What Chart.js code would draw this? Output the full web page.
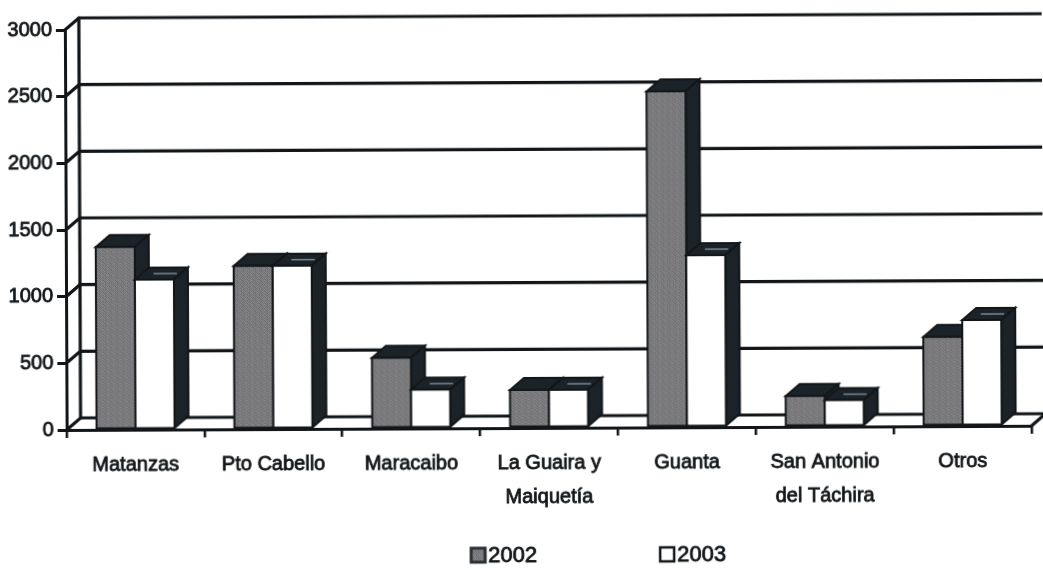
<!DOCTYPE html>
<html>
<head>
<meta charset="utf-8">
<script src="https://cdn.jsdelivr.net/npm/chart.js@4/dist/chart.umd.min.js"></script>
<style>
  html, body { margin: 0; padding: 0; background: #fff; overflow: hidden; }
  #wrap { width: 1043px; height: 570px; }
  /* the printed page sits a touch askew */
  canvas { transform: rotate(-0.25deg); transform-origin: 50% 50%; }
</style>
</head>
<body>
<div id="wrap"><canvas id="c" width="1043" height="570"></canvas></div>
<script>
// Ports and yearly volumes
const categories = [
  ['Matanzas'],
  ['Pto Cabello'],
  ['Maracaibo'],
  ['La Guaira y', 'Maiquetía'],
  ['Guanta'],
  ['San Antonio', 'del Táchira'],
  ['Otros']
];
const seriesNames = ['2002', '2003'];
const values2002 = [1370, 1225, 530, 285, 2520, 230, 670];
const values2003 = [1125, 1225, 290, 285, 1290, 198, 795];
const yMin = 0, yMax = 3000, yStep = 500;

// Styling
const INK = '#121619';
const FACE_DARK = '#1b2329';
const FONT = "'Liberation Sans', Arial, sans-serif";
const FONT_SIZE = 20;
const TEXT_STROKE = 0.8;          // heavier ink on the printed labels
const DX = 14, DY = -12;          // depth of the 3-D extrusion

// stippled grey fill for the 2002 series
function makeGrain() {
  const shades = [
    [0x86, 0x70, 0x7e, 0x6a, 0x82, 0x76],
    [0x6c, 0x8c, 0x74, 0x84, 0x6e, 0x8a],
    [0x7c, 0x66, 0x8a, 0x72, 0x88, 0x70],
    [0x8e, 0x7a, 0x6a, 0x80, 0x74, 0x84],
    [0x70, 0x84, 0x7a, 0x68, 0x8c, 0x78],
    [0x80, 0x6e, 0x86, 0x7c, 0x6c, 0x82]
  ];
  const tile = document.createElement('canvas');
  tile.width = 6; tile.height = 6;
  const t = tile.getContext('2d');
  shades.forEach((row, r) => row.forEach((v, c) => {
    t.fillStyle = `rgb(${v},${v},${v + 2})`;
    t.fillRect(c, r, 1, 1);
  }));
  return document.getElementById('c').getContext('2d').createPattern(tile, 'repeat');
}
const grain = makeGrain();
const frontFills = [grain, '#ffffff'];

function poly(ctx, pts, fill) {
  ctx.beginPath();
  ctx.moveTo(pts[0][0], pts[0][1]);
  for (let i = 1; i < pts.length; i++) ctx.lineTo(pts[i][0], pts[i][1]);
  ctx.closePath();
  ctx.fillStyle = fill;
  ctx.fill();
  ctx.stroke();
}

// Back wall, side wall and floor drawn in perspective
const wallsPlugin = {
  id: 'walls',
  beforeDatasetsDraw(chart) {
    const { ctx, chartArea: a, scales: { y } } = chart;
    ctx.save();
    ctx.strokeStyle = INK;
    ctx.lineWidth = 3.2;
    ctx.lineCap = 'round';
    y.ticks.forEach(t => {
      const yf = y.getPixelForValue(t.value);
      ctx.beginPath();
      ctx.moveTo(a.left, yf);
      ctx.lineTo(a.left + DX, yf + DY);
      ctx.lineTo(a.right + DX + 4, yf + DY);
      ctx.stroke();
    });
    ctx.beginPath();
    ctx.moveTo(a.left + DX, y.getPixelForValue(yMax) + DY);
    ctx.lineTo(a.left + DX, y.getPixelForValue(yMin) + DY);
    ctx.moveTo(a.right, y.getPixelForValue(yMin));
    ctx.lineTo(a.right + DX, y.getPixelForValue(yMin) + DY);
    ctx.stroke();
    ctx.restore();
  },
  // bars are painted below, one group at a time, so faces overlap correctly
  beforeDatasetDraw() { return false; },
  afterDatasetsDraw(chart) {
    const { ctx } = chart;
    const metas = chart.data.datasets.map((_, k) => chart.getDatasetMeta(k));
    ctx.save();
    ctx.strokeStyle = INK;
    ctx.lineJoin = 'miter';
    for (let i = 0; i < categories.length; i++) {
      metas.forEach((meta, k) => {
        const bar = meta.data[i];
        const { x, y, base, width } = bar.getProps(['x', 'y', 'base', 'width'], true);
        const x1 = x - width / 2, x2 = x + width / 2;
        ctx.lineWidth = 2;
        poly(ctx, [[x1, y], [x1 + DX, y + DY], [x2 + DX, y + DY], [x2, y]], FACE_DARK);
        poly(ctx, [[x2, y], [x2 + DX, y + DY], [x2 + DX, base + DY], [x2, base]], FACE_DARK);
        poly(ctx, [[x1, y], [x2, y], [x2, base], [x1, base]], frontFills[k]);
        if (k === 1) {
          // faint sheen on the lid of the white columns
          ctx.save();
          ctx.strokeStyle = '#7d868c';
          ctx.lineWidth = 1.5;
          ctx.beginPath();
          ctx.moveTo(x1 + DX * 0.5 + width * 0.3, y + DY * 0.5);
          ctx.lineTo(x2 + DX * 0.5 - 4, y + DY * 0.5);
          ctx.stroke();
          ctx.restore();
        }
      });
    }
    ctx.restore();
  },
  afterDraw(chart) {
    // legend row
    const { ctx } = chart;
    const startX = [469, 658];
    const cy = 555, box = 16;
    ctx.save();
    ctx.font = `22px ${FONT}`;
    ctx.textBaseline = 'middle';
    chart.data.datasets.forEach((ds, k) => {
      const bx = startX[k];
      ctx.fillStyle = frontFills[k];
      ctx.fillRect(bx, cy - box / 2, box, box);
      ctx.strokeStyle = k === 0 ? '#2a3035' : INK;
      ctx.lineWidth = k === 0 ? 3 : 2.5;
      ctx.strokeRect(bx + 1, cy - box / 2 + 1, box - 2, box - 2);
      ctx.fillStyle = INK;
      ctx.strokeStyle = INK;
      ctx.lineWidth = TEXT_STROKE;
      ctx.fillText(ds.label, bx + box + 2, cy + 1);
      ctx.strokeText(ds.label, bx + box + 2, cy + 1);
    });
    ctx.restore();
  }
};

new Chart(document.getElementById('c'), {
  type: 'bar',
  data: {
    labels: categories,
    datasets: [
      { label: seriesNames[0], data: values2002, backgroundColor: '#7c7c7e' },
      { label: seriesNames[1], data: values2003, backgroundColor: '#ffffff' }
    ]
  },
  options: {
    responsive: false,
    animation: false,
    devicePixelRatio: 1,
    categoryPercentage: 0.566,
    barPercentage: 1,
    layout: { padding: { top: 28, right: 12, left: 0, bottom: 0 } },
    plugins: { legend: { display: false }, tooltip: { enabled: false } },
    scales: {
      y: {
        min: yMin, max: yMax,
        afterFit(s) { s.width = 66; },
        ticks: { stepSize: yStep, padding: 4, color: INK,
                 textStrokeColor: INK, textStrokeWidth: TEXT_STROKE,
                 callback: v => String(v),
                 font: { family: FONT, size: FONT_SIZE } },
        grid: { drawOnChartArea: false, drawTicks: true, tickLength: 9, lineWidth: 3, color: INK },
        border: { display: true, width: 3, color: INK }
      },
      x: {
        afterFit(s) { s.height = 142; },
        ticks: { padding: 10, color: INK, maxRotation: 0, autoSkip: false,
                 textStrokeColor: INK, textStrokeWidth: TEXT_STROKE,
                 font: { family: FONT, size: FONT_SIZE, lineHeight: 1.7 } },
        grid: { offset: true, drawOnChartArea: false, drawTicks: true, tickLength: 8, lineWidth: 2.5, color: INK },
        border: { display: true, width: 3, color: INK }
      }
    }
  },
  plugins: [wallsPlugin]
});
</script>
</body>
</html>
